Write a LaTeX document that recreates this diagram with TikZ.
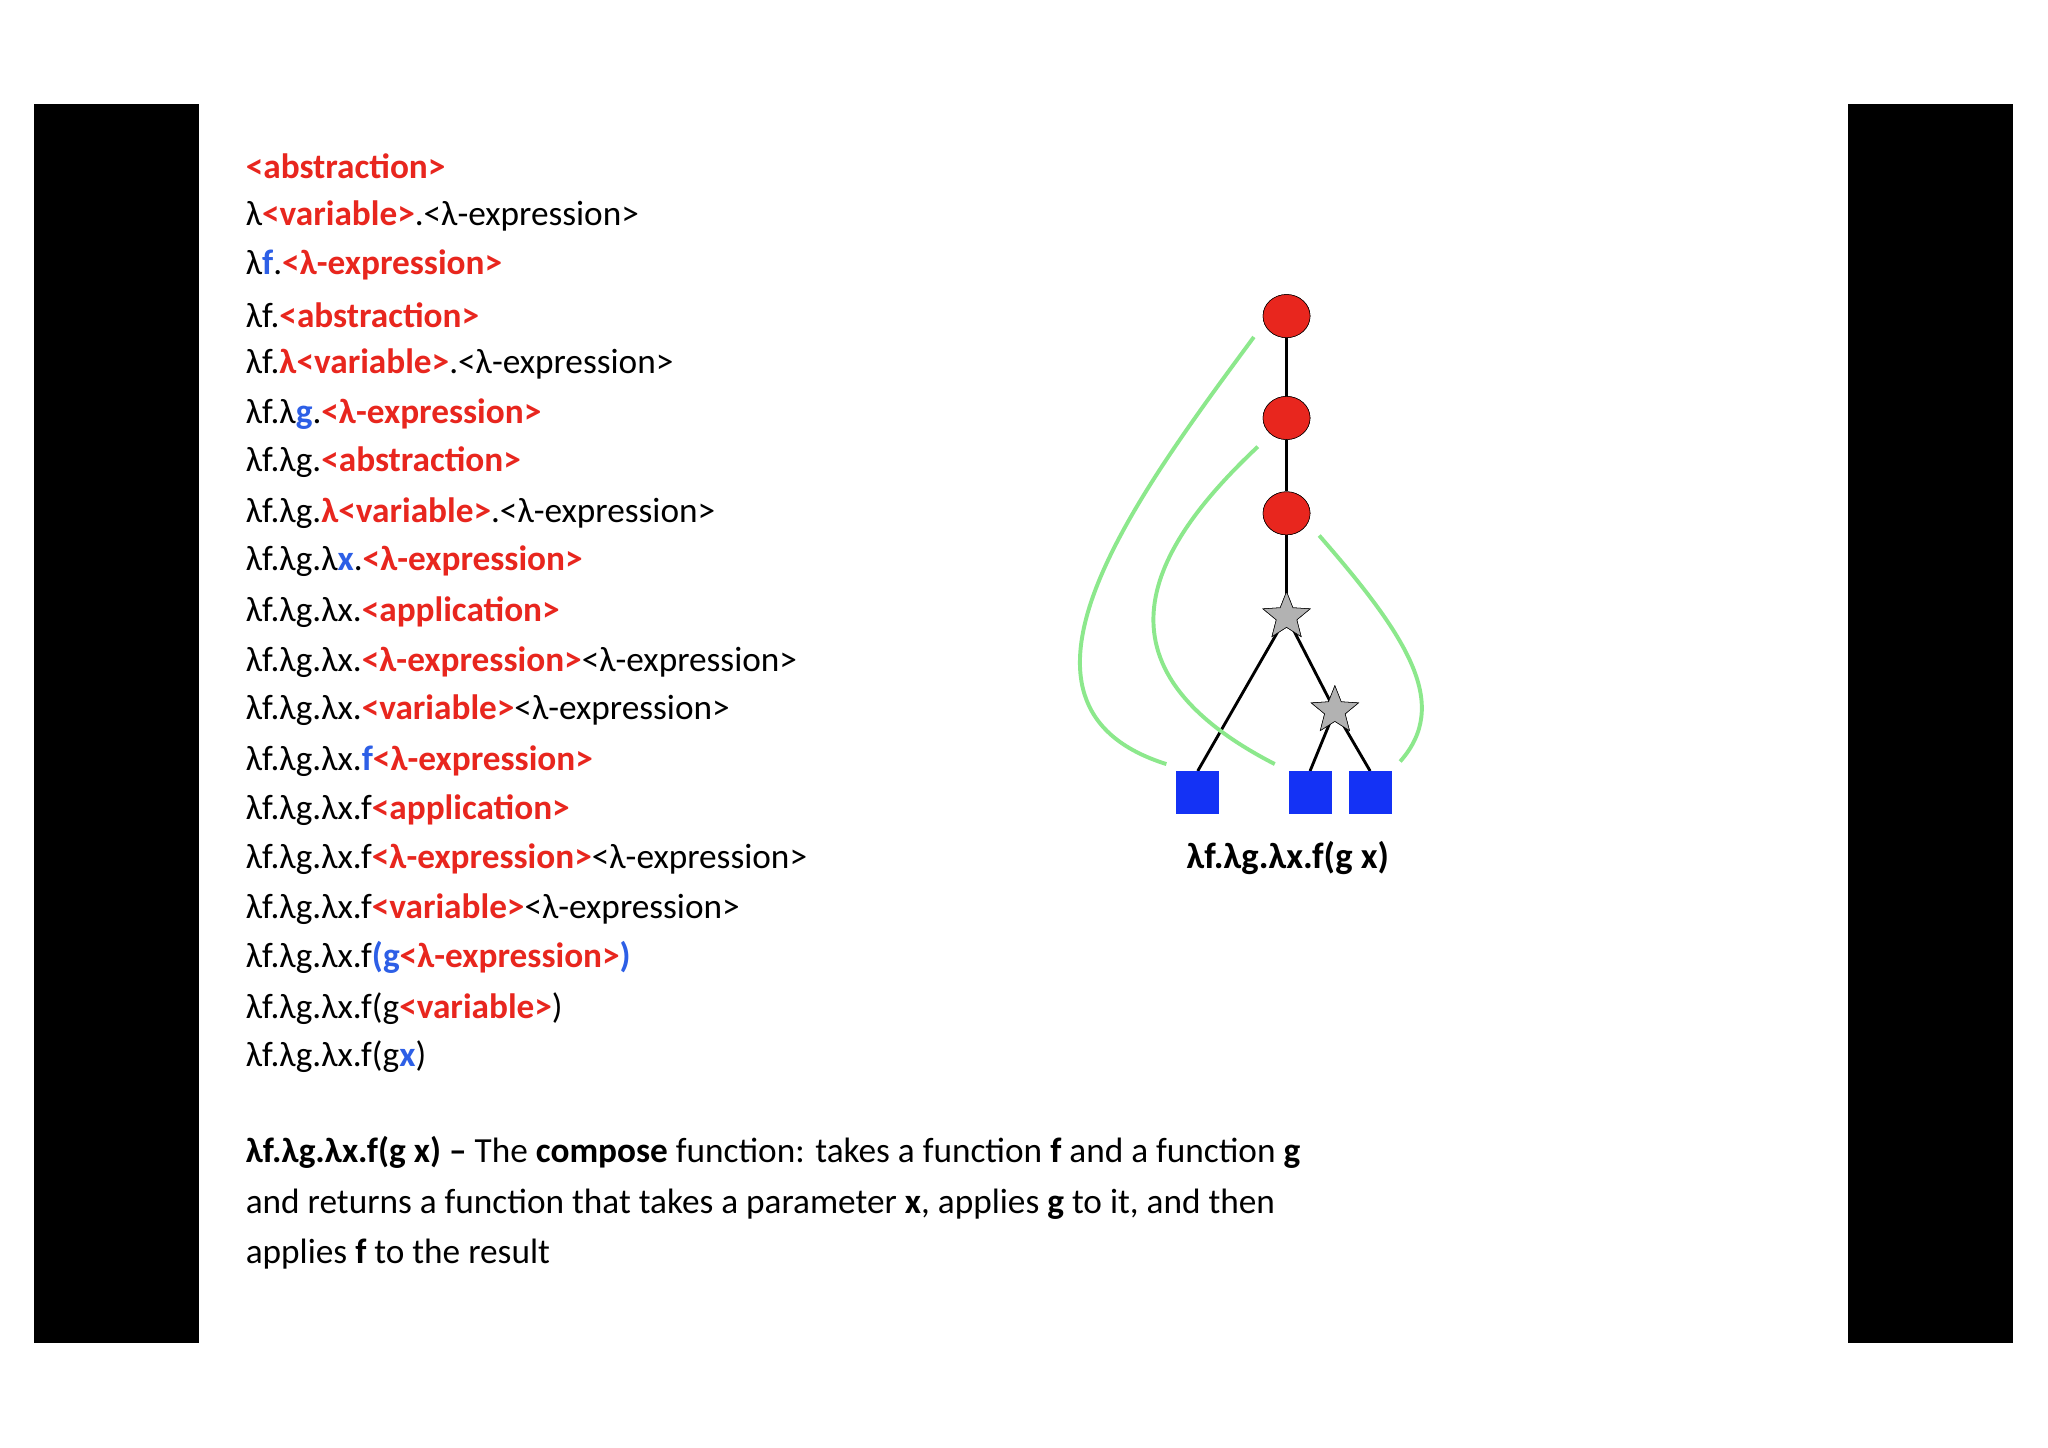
\documentclass[tikz,border=0pt]{standalone}
\usepackage{fontspec}
\setmainfont{Carlito}
\usetikzlibrary{shapes.geometric}
\definecolor{rd}{RGB}{232,38,30}
\definecolor{bl}{RGB}{45,95,230}
\definecolor{gr}{RGB}{140,232,140}
\definecolor{sq}{RGB}{20,50,245}
\newcommand{\R}[1]{\textcolor{rd}{\bfseries #1}}
\newcommand{\B}[1]{\textcolor{bl}{\bfseries #1}}
\begin{document}
\begin{tikzpicture}[x=1pt,y=-1pt,
  ln/.style={anchor=west,inner sep=0pt,font=\fontsize{27}{32}\selectfont},
  circ/.style={ellipse,draw=black,fill=rd,minimum width=36pt,minimum height=33pt,inner sep=0pt},
  st/.style={star,star points=5,star point ratio=2.3,draw=black,fill=gray!60,minimum size=38pt,inner sep=0pt},
  box/.style={fill=sq,minimum size=33pt,inner sep=0pt},
  ed/.style={line width=2.2pt},
  gl/.style={draw=gr,line width=3pt}]
\useasboundingbox (0,0) rectangle (1568,1108);
\fill[white] (0,0) rectangle (1568,1108);
\fill[black] (26,80) rectangle (152,1028);
\fill[black] (1415,80) rectangle (1541,1028);
\node[ln] (l1) at (188,127) {\R{<abstraction>}};
\node[ln] (l2) at (188,165) {λ\R{<variable>}.<λ-expression>};
\node[ln] (l3) at (188,203) {λ\B{f}.\R{<λ-expression>}};
\node[ln] (l4) at (188,241) {λf.\R{<abstraction>}};
\node[ln] (l5) at (188,279) {λf.\R{λ<variable>}.<λ-expression>};
\node[ln] (l6) at (188,317) {λf.λ\B{g}.\R{<λ-expression>}};
\node[ln] (l7) at (188,354) {λf.λg.\R{<abstraction>}};
\node[ln] (l8) at (188,393) {λf.λg.\R{λ<variable>}.<λ-expression>};
\node[ln] (l9) at (188,430) {λf.λg.λ\B{x}.\R{<λ-expression>}};
\node[ln] (l10) at (188,469) {λf.λg.λx.\R{<application>}};
\node[ln] (l11) at (188,507) {λf.λg.λx.\R{<λ-expression>}<λ-expression>};
\node[ln] (l12) at (188,544) {λf.λg.λx.\R{<variable>}<λ-expression>};
\node[ln] (l13) at (188,583) {λf.λg.λx.\B{f}\R{<λ-expression>}};
\node[ln] (l14) at (188,620) {λf.λg.λx.f\R{<application>}};
\node[ln] (l15) at (188,658) {λf.λg.λx.f\R{<λ-expression>}<λ-expression>};
\node[ln] (l16) at (188,696) {λf.λg.λx.f\R{<variable>}<λ-expression>};
\node[ln] (l17) at (188,733) {λf.λg.λx.f\B{(g}\R{<λ-expression>}\B{)}};
\node[ln] (l18) at (188,772) {λf.λg.λx.f(g\R{<variable>})};
\node[ln] (l19) at (188,809) {λf.λg.λx.f(g\B{x})};
\node[anchor=north west,inner sep=0pt,align=left,font=\fontsize{27}{38.5}\selectfont] (para) at (188,870)
 {\textbf{λf.λg.λx.f(g x) –} The \textbf{compose} function: takes a function \textbf{f} and a function \textbf{g}\\
 and returns a function that takes a parameter \textbf{x}, applies \textbf{g} to it, and then\\
 applies \textbf{f} to the result};
% tree
\node[box] (s1) at (917,607) {};
\node[box] (s2) at (1003,607) {};
\node[box] (s3) at (1049,607) {};
\node[st] (t1) at (985,472) {};
\node[st] (t2) at (1022,544) {};
\node[circ] (c1) at (985,242) {};
\node[circ] (c2) at (985,320) {};
\node[circ] (c3) at (985,393) {};
\draw[ed] (c1) -- (c2);
\draw[ed] (c2) -- (c3);
\draw[ed] (c3) -- (t1.center);
\draw[ed] (t1.center) -- (s1.north);
\draw[ed] (t1.center) -- (t2.center);
\draw[ed] (t2.center) -- (s2.north);
\draw[ed] (t2.center) -- (s3.north);
\node[st] at (t1) {};
\node[st] at (t2) {};
\node[circ] at (c1) {};
\node[circ] at (c2) {};
\node[circ] at (c3) {};
\node[box] at (s1) {};
\node[box] at (s2) {};
\node[box] at (s3) {};
\coordinate (g1a) at (960,258);
\coordinate (g1b) at (893,585);
\coordinate (g2a) at (963,342);
\coordinate (g2b) at (976,585);
\coordinate (g3a) at (1010,410);
\coordinate (g3b) at (1072,583);
\draw[gl] (g1a) .. controls (870,380) and (750,540) .. (g1b);
\draw[gl] (g2a) .. controls (880,420) and (830,510) .. (g2b);
\draw[gl] (g3a) .. controls (1080,490) and (1110,540) .. (g3b);
\node[font=\fontsize{28}{32}\selectfont\bfseries] (lab) at (986,657) {λf.λg.λx.f(g x)};
\end{tikzpicture}
\end{document}
